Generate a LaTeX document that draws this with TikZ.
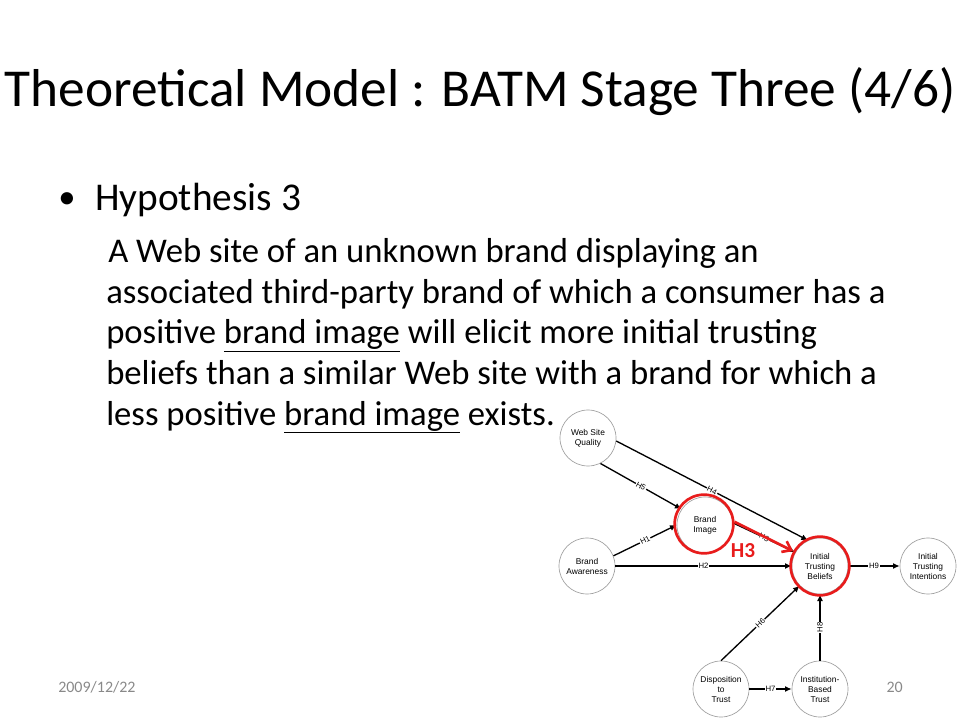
\documentclass[tikz,border=0pt]{standalone}
\usepackage{fontspec}
\setmainfont{Carlito}
\newfontfamily\arialfont{Liberation Sans}
\usetikzlibrary{arrows.meta}
\definecolor{hlred}{RGB}{232,28,28}
\definecolor{footgray}{RGB}{137,137,137}
\newcommand{\thickul}[1]{\leavevmode\vtop{\hbox{#1}\kern0.6pt\hrule height 1.3pt}} % underline of the slide
\begin{document}
\begin{tikzpicture}[x=0.75pt,y=-0.75pt]
\tikzstyle{construct} = [circle, draw=gray!75, line width=0.5pt, minimum size=42pt, inner sep=0pt, align=center, font=\arialfont\fontsize{6.3}{7.5}\selectfont] % constructs of the model
\tikzstyle{link} = [draw, line width=1pt, -{Latex[length=5pt,width=4.5pt]}] % hypothesised paths
\tikzstyle{hyp} = [midway, sloped, fill=white, inner sep=0.6pt, font=\arialfont\fontsize{5.8}{5.8}\selectfont] % labels on paths
\tikzstyle{ring} = [circle, draw=hlred, line width=2pt, minimum size=44pt, inner sep=0pt] % red highlight
\tikzstyle{slidetext} = [anchor=base west, inner sep=0pt]
\tikzstyle{bodytext} = [slidetext, font=\fontsize{26}{26}\selectfont]

\useasboundingbox (0,0) rectangle (960,720);

% slide text
\node[anchor=base, inner sep=0pt, font=\fontsize{40}{40}\selectfont] (title) at (480,107) {Theoretical Model : BATM Stage Three (4/6)};
\node[slidetext, font=\fontsize{26}{26}\selectfont] (bullet) at (58,209) {•};
\node[slidetext, font=\fontsize{29.5}{29.5}\selectfont] (hyp3) at (95,211) {Hypothesis 3};
\node[bodytext] (line1) at (108,263) {A Web site of an unknown brand displaying an};
\node[bodytext] (line2) at (106,303.5) {associated third-party brand of which a consumer has a};
\node[bodytext] (line3) at (106,344) {positive \thickul{brand image} will elicit more initial trusting};
\node[bodytext] (line4) at (106,384.5) {beliefs than a similar Web site with a brand for which a};
\node[bodytext] (line5) at (106,425) {less positive \thickul{brand image} exists.};
\node[slidetext, text=footgray, font=\fontsize{12}{12}\selectfont] (date) at (58,692) {2009/12/22};
\node[anchor=base east, inner sep=0pt, text=footgray, font=\fontsize{12}{12}\selectfont] (page) at (903,692) {20};

% model
\node[construct] (wsq) at (588,438) {Web Site\\Quality};
\node[construct] (bi) at (705,525) {Brand\\Image};
\node[construct] (ba) at (587,566) {Brand\\Awareness};
\node[construct] (itb) at (820,566) {Initial\\Trusting\\Beliefs};
\node[construct] (iti) at (928,566) {Initial\\Trusting\\Intentions};
\node[construct] (dt) at (721,689) {Disposition\\to\\Trust};
\node[construct] (ibt) at (820,689) {Institution-\\Based\\Trust};

\draw[link] (wsq.-6) -- (itb.115) node[hyp] {H4};
\draw[link] (wsq.-64) -- (bi.146) node[hyp] {H5};
\draw[link] (ba.21) -- (bi.180) node[hyp] {H1};
\draw[link] (ba) -- (itb) node[hyp] {H2};
\draw[link] (bi.4) -- (itb.151) node[hyp] {H3};
\draw[link] (itb) -- (iti) node[hyp] {H9};
\draw[link] (dt.90) -- (itb.-136) node[hyp] {H6};
\draw[link] (dt) -- (ibt) node[hyp] {H7};
\draw[link] (ibt) -- (itb) node[hyp] {H8};

% highlight of H3
\node[ring] (biring) at (704,524) {};
\node[ring] (itbring) at (itb) {};
\draw[hlred, line width=2pt, -{Straight Barb[length=6pt,width=9pt]}] (biring.4) -- (itbring.151);
\node[text=hlred, font=\bfseries\fontsize{16}{16}\selectfont] (h3) at (743,551) {H3};
\end{tikzpicture}
\end{document}
